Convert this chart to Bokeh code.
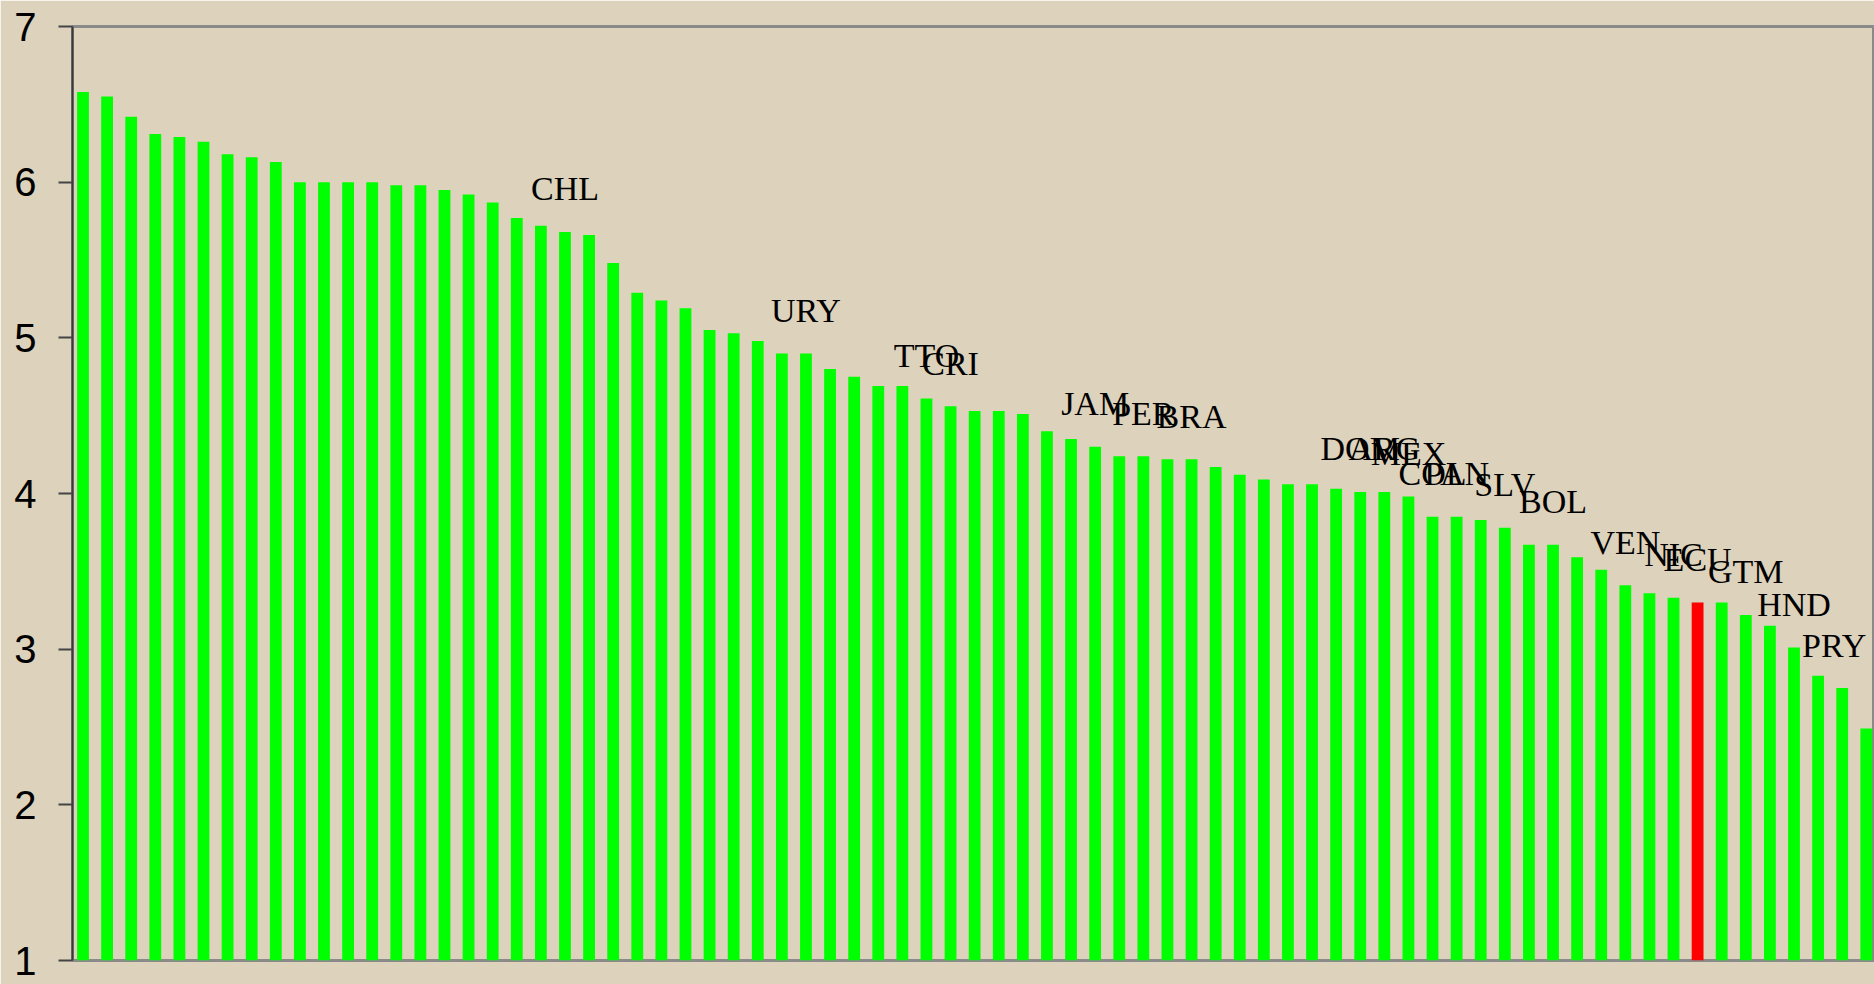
from bokeh.plotting import figure
from bokeh.models import ColumnDataSource, Range1d, FixedTicker
from bokeh.core.properties import value
from bokeh.embed import file_html
from bokeh.resources import INLINE

# Bar values, sorted descending (index = position along the x axis)
values = [6.58, 6.55, 6.42, 6.31, 6.29, 6.26, 6.18, 6.16, 6.13, 6.00,
          6.00, 6.00, 6.00, 5.98, 5.98, 5.95, 5.92, 5.87, 5.77, 5.72,
          5.68, 5.66, 5.48, 5.29, 5.24, 5.19, 5.05, 5.03, 4.98, 4.90,
          4.90, 4.80, 4.75, 4.69, 4.69, 4.61, 4.56, 4.53, 4.53, 4.51,
          4.40, 4.35, 4.30, 4.24, 4.24, 4.22, 4.22, 4.17, 4.12, 4.09,
          4.06, 4.06, 4.03, 4.01, 4.01, 3.98, 3.85, 3.85, 3.83, 3.78,
          3.67, 3.67, 3.59, 3.51, 3.41, 3.36, 3.33, 3.30, 3.30, 3.22,
          3.15, 3.01, 2.83, 2.75, 2.49]

# Country codes shown above some bars ("" = unlabelled bar)
codes = ["", "", "", "", "", "", "", "", "", "",
         "", "", "", "", "", "", "", "", "", "",
         "CHL", "", "", "", "", "", "", "", "", "",
         "URY", "", "", "", "", "TTO", "CRI", "", "", "",
         "", "", "JAM", "", "PER", "", "BRA", "", "", "",
         "", "", "", "DOM", "ARG", "MEX", "COL", "PAN", "", "SLV",
         "", "BOL", "", "", "VEN", "", "NIC", "ECU", "", "GTM",
         "", "HND", "", "PRY", ""]

highlight = "ECU"
y_ticks = [1, 2, 3, 4, 5, 6, 7]

GREEN = "#00ff00"
RED = "#ff0000"
BG = "#ddd2bb"

W, H = 1874, 984
xs = list(range(len(values)))
colors = [RED if c == highlight else GREEN for c in codes]

bars = ColumnDataSource(dict(x=xs, top=values, color=colors))
lab_idx = [i for i, c in enumerate(codes) if c]
# labels are kept inside the plot area (last one nudged left, as in the original)
x_off = [(-8 if i == lab_idx[-1] else 0) for i in lab_idx]
labels = ColumnDataSource(dict(x=[xs[i] for i in lab_idx],
                               y=[values[i] for i in lab_idx],
                               text=[codes[i] for i in lab_idx],
                               xo=x_off))

p = figure(width=W, height=H, output_backend="svg", toolbar_location=None,
           x_range=Range1d(-0.436, 74.34), y_range=Range1d(1, 7),
           x_axis_location=None, y_axis_location="left",
           min_border_left=72, min_border_right=0,
           min_border_top=26, min_border_bottom=24)

p.background_fill_color = BG
p.border_fill_color = BG
p.outline_line_color = "#8a8a8a"
p.outline_line_width = 3
p.grid.visible = False

p.vbar(x="x", top="top", bottom=1, width=0.49, fill_color="color",
       line_color=None, source=bars)

p.text(x="x", y="y", text="text", source=labels,
       text_font=value("Liberation Serif"), text_font_size=value("34px"),
       text_align="center", text_baseline="alphabetic", y_offset=-43,
       x_offset="xo", text_color="black")

ya = p.yaxis[0]
ya.ticker = FixedTicker(ticks=y_ticks)
ya.minor_tick_line_color = None
ya.major_tick_in = 0
ya.major_tick_out = 14
ya.major_tick_line_color = "#444444"
ya.major_tick_line_width = 2
ya.axis_line_color = "#3a3a3a"
ya.axis_line_width = 2
ya.major_label_standoff = 22
ya.major_label_text_font = "Liberation Sans"
ya.major_label_text_font_size = "40px"
ya.major_label_text_color = "black"

open("out.html", "w").write(file_html(p, INLINE))
